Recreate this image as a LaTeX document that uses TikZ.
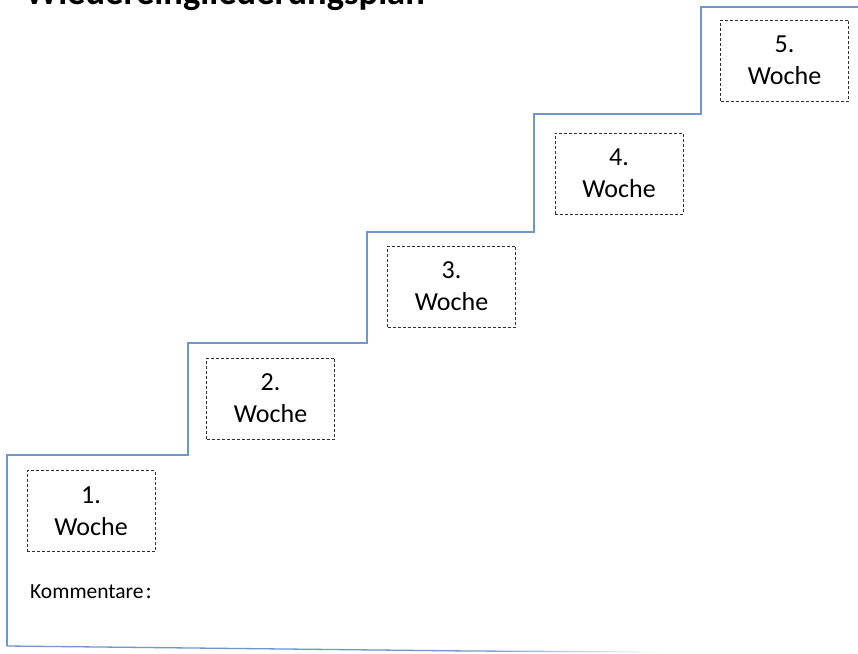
\documentclass[tikz,border=0pt]{standalone}
\usepackage{fontspec}
\setmainfont{Carlito}
\usetikzlibrary{fadings}
\definecolor{stairblue}{HTML}{6F96CF}
\definecolor{boxgray}{HTML}{303030}
\tikzset{
  stairline/.style={draw=stairblue, line width=1.3pt, line join=miter},
  weekbox/.style={draw=boxgray, dash pattern=on 3pt off 2pt, line width=0.8pt,
    minimum width=128pt, minimum height=81pt, inner sep=0pt, align=center,
    font=\fontsize{26}{32}\selectfont},
}
\begin{document}
\begin{tikzpicture}[x=1pt,y=-1pt]
  \useasboundingbox (0,0) rectangle (858,653);
  % title, partly cut at the top edge
  \node[anchor=base west, inner sep=0pt, font=\bfseries\fontsize{36.5}{40}\selectfont] (title) at (25,5) {Wiedereingliederungsplan};
  % staircase outline
  \coordinate (s0) at (7,646);
  \coordinate (s1) at (7,455);
  \coordinate (s2) at (188,455);
  \coordinate (s3) at (188,343);
  \coordinate (s4) at (367,343);
  \coordinate (s5) at (367,232);
  \coordinate (s6) at (534,232);
  \coordinate (s7) at (534,114);
  \coordinate (s8) at (701,114);
  \coordinate (s9) at (701,7);
  \coordinate (s10) at (860,7);
  \draw[stairline] (s0) -- (s1) -- (s2) -- (s3) -- (s4) -- (s5) -- (s6) -- (s7) -- (s8) -- (s9) -- (s10);
  % floor line, fading out to the right
  \coordinate (f1) at (470,651);
  \coordinate (f2) at (660,652);
  \draw[stairline] (s0) -- (f1);
  \draw[stairline, path fading=east] (f1) -- (f2);
  % week boxes
  \node[weekbox] (w1) at (91,511) {1.\\Woche};
  \node[weekbox] (w2) at (270.5,398.5) {2.\\Woche};
  \node[weekbox] (w3) at (451.5,286.5) {3.\\Woche};
  \node[weekbox] (w4) at (619,173.5) {4.\\Woche};
  \node[weekbox] (w5) at (784.5,60.5) {5.\\Woche};
  % comment label
  \node[anchor=base west, inner sep=0pt, font=\fontsize{21.5}{24}\selectfont] (komm) at (30,598) {Kommentare\hspace{2pt}{\fontsize{23}{24}\selectfont:}};
\end{tikzpicture}
\end{document}
